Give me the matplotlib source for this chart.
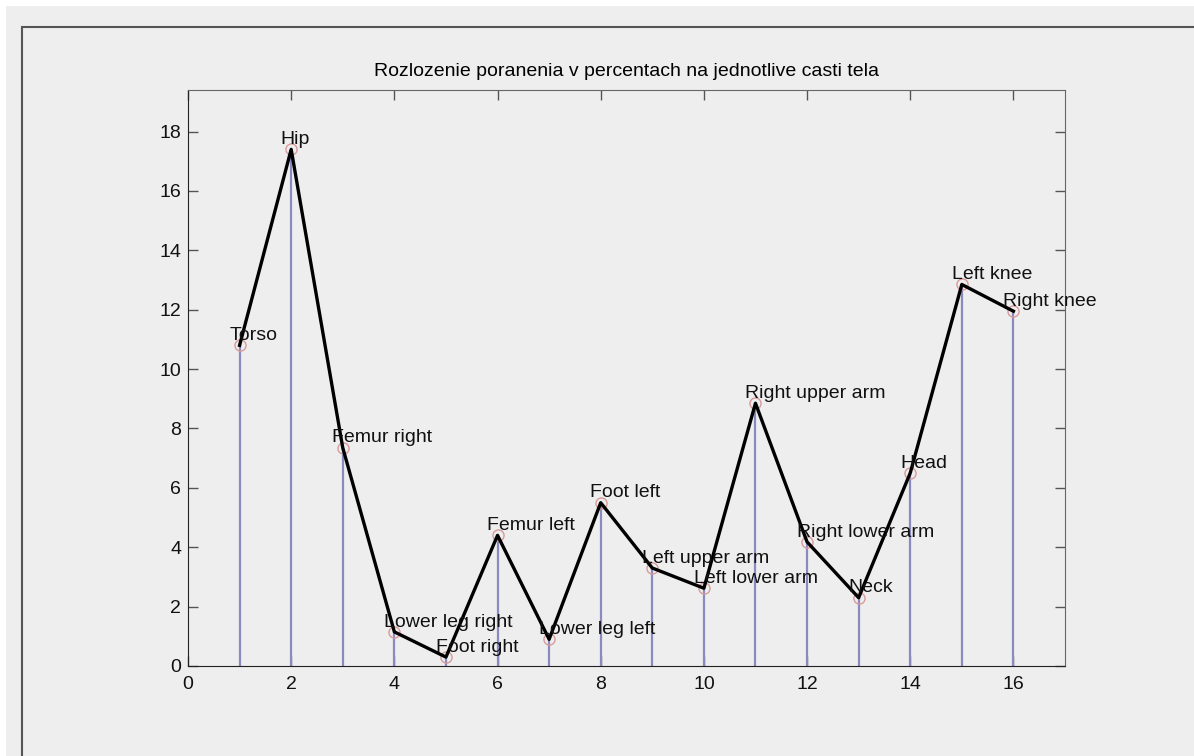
import numpy as np
import matplotlib
matplotlib.use("Agg")
import matplotlib.pyplot as plt
from matplotlib.patches import Rectangle

plt.rcParams['font.family'] = ['Liberation Sans', 'DejaVu Sans']

# body parts and injury share in percent
parts = ['Torso', 'Hip', 'Femur right', 'Lower leg right', 'Foot right',
         'Femur left', 'Lower leg left', 'Foot left', 'Left upper arm',
         'Left lower arm', 'Right upper arm', 'Right lower arm', 'Neck',
         'Head', 'Left knee', 'Right knee']
percent = [10.8, 17.4, 7.35, 1.15, 0.3, 4.4, 0.9, 5.5, 3.3, 2.62, 8.85,
           4.18, 2.3, 6.5, 12.85, 11.95]
idx = np.arange(1, len(parts) + 1)

bg = '#eeeeee'
fig = plt.figure(figsize=(11.94, 7.56), dpi=100, facecolor='white')

# gray window background with a thin white margin, and the outer frame
fig.add_artist(Rectangle((6 / 1194, -0.1), 1.2, 1.1 - 6 / 756,
                         transform=fig.transFigure, facecolor=bg,
                         edgecolor='none', zorder=-10))
fig.add_artist(Rectangle((22 / 1194, -0.1), 1.2, 1.1 - 27 / 756,
                         transform=fig.transFigure, facecolor='none',
                         edgecolor='#555555', linewidth=1.5, zorder=-9))

ax = fig.add_axes([188 / 1194, 1 - 666 / 756, 877 / 1194, 576 / 756])
ax.set_facecolor(bg)

# stems, markers and the connecting line
ax.vlines(idx, 0, percent, color='#8a89c0', linewidth=1.6, zorder=2)
ax.plot(idx, percent, 'o', markersize=8, markerfacecolor='none',
        markeredgecolor='#d89a9a', markeredgewidth=1, zorder=3)
ax.plot(idx, percent, color='black', linewidth=2.4, zorder=4)

for x, y, name in zip(idx, percent, parts):
    ax.text(x - 0.2, y + 0.33, name, fontsize=14, ha='left', va='center',
            color='#111111', zorder=5)

ax.set_xlim(0, 17)
ax.set_ylim(0, 19.4)
ax.set_xticks(range(0, 17, 2))
ax.set_yticks(range(0, 19, 2))
ax.tick_params(direction='in', length=7, width=1, labelsize=14,
               top=True, right=True, color='#555555', labelcolor='#111111')
ax.tick_params(axis='y', pad=5)
ax.tick_params(axis='x', pad=7)
for side in ['left', 'bottom']:
    ax.spines[side].set_color('#222222')
for side in ['top', 'right']:
    ax.spines[side].set_color('#666666')

ax.set_title('Rozlozenie poranenia v percentach na jednotlive casti tela',
             fontsize=14, pad=10)

fig.savefig('out.png', dpi=100, facecolor='white')
